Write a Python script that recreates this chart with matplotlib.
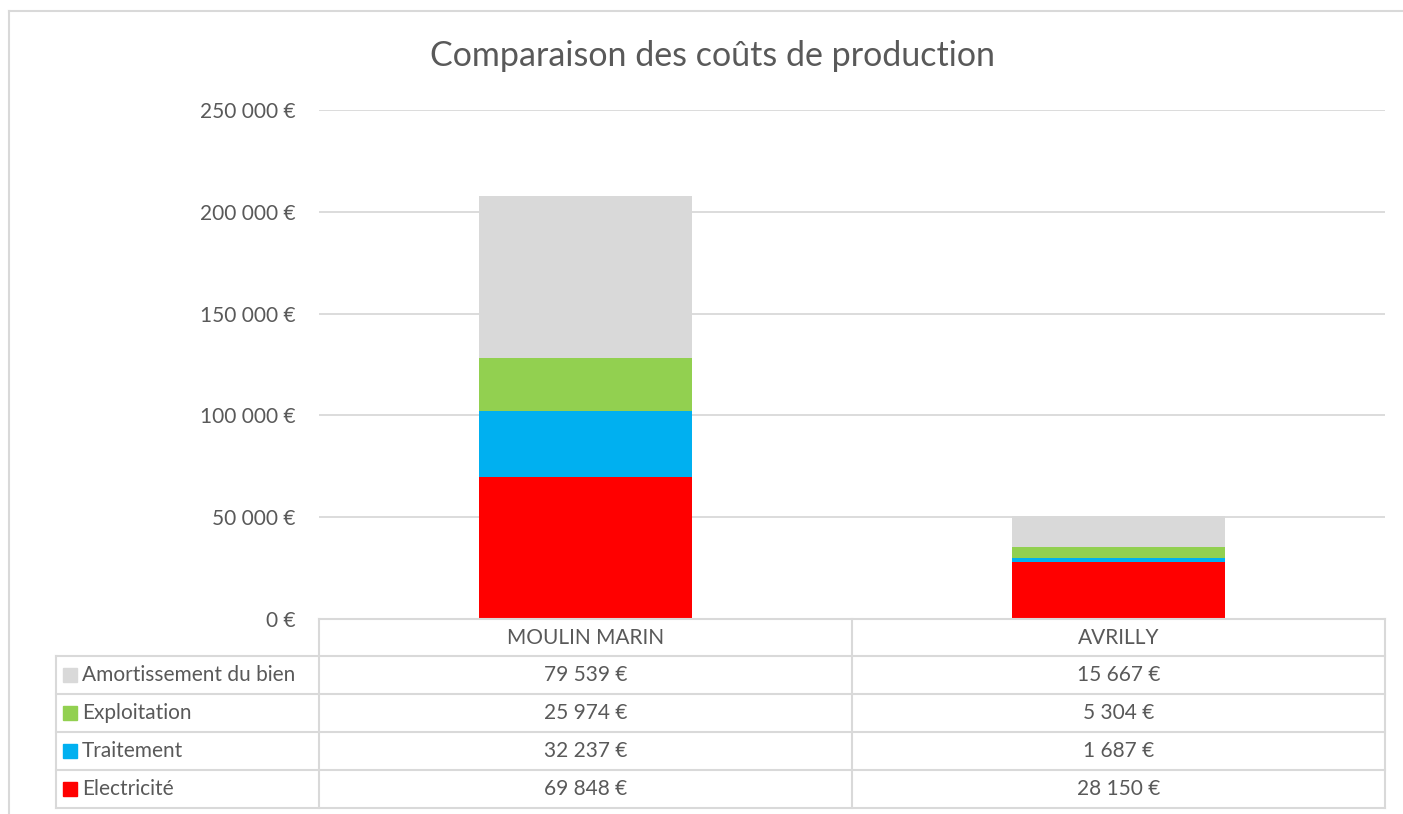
import matplotlib.pyplot as plt
from matplotlib.patches import Rectangle

# Données
sites = ['MOULIN MARIN', 'AVRILLY']
series = ['Amortissement du bien', 'Exploitation', 'Traitement', 'Electricité']
electricite = [69848, 28150]
traitement = [32237, 1687]
exploitation = [25974, 5304]
amortissement = [79539, 15667]
colors = {'Amortissement du bien': '#d9d9d9', 'Exploitation': '#92d050',
          'Traitement': '#00b0f0', 'Electricité': '#ff0000'}
yticks = [0, 50000, 100000, 150000, 200000, 250000]

valeurs = {'Amortissement du bien': amortissement, 'Exploitation': exploitation,
           'Traitement': traitement, 'Electricité': electricite}

def euro(v):
    return f"{v:,}".replace(',', ' ') + ' €'

plt.rcParams['font.family'] = ['Lato', 'DejaVu Sans']
gris_txt = '#595959'
gris_ligne = '#d9d9d9'
fs = 15

W, H = 1403, 814
fig = plt.figure(figsize=(W / 100, H / 100), dpi=100)

# axe du graphique (coordonnées pixels -> fraction)
x0, x1, ytop, ybot = 319, 1385, 110, 619
ax = fig.add_axes([x0 / W, (H - ybot) / H, (x1 - x0) / W, (ybot - ytop) / H])
pos = [0.5, 1.5]
bas = [0, 0]
for nom in ['Electricité', 'Traitement', 'Exploitation', 'Amortissement du bien']:
    ax.bar(pos, valeurs[nom], 0.4, bottom=bas, color=colors[nom], zorder=3)
    bas = [b + v for b, v in zip(bas, valeurs[nom])]
ax.set_xlim(0, 2)
ax.set_ylim(0, 250000)
ax.set_yticks(yticks)
ax.set_yticklabels([euro(t) for t in yticks], color=gris_txt, fontsize=fs)
ax.tick_params(axis='y', length=0, pad=17)
ax.set_xticks([])
ax.grid(axis='y', color=gris_ligne, linewidth=1.3, zorder=0)
for s in ax.spines.values():
    s.set_visible(False)

fig.text(713 / W, (H - 56) / H, 'Comparaison des coûts de production',
         ha='center', va='center', fontsize=24.5, color=gris_txt)

# tableau de données, dessiné en pixels
tab = fig.add_axes([0, 0, 1, 1])
tab.set_xlim(0, W)
tab.set_ylim(H, 0)
tab.axis('off')
lw = 1.5
tab.plot([9, W], [11, 11], color=gris_ligne, lw=lw)
tab.plot([9, 9], [11, H], color=gris_ligne, lw=lw)

cols = [56, 319, 852, 1385]
rows = [619, 656, 694, 732, 770, 808]
tab.plot([cols[1], cols[3]], [rows[0], rows[0]], color=gris_ligne, lw=lw)
for y in rows[1:]:
    tab.plot([cols[0], cols[3]], [y, y], color=gris_ligne, lw=lw)
tab.plot([cols[0], cols[0]], [rows[1], rows[-1]], color=gris_ligne, lw=lw)
for x in cols[1:]:
    tab.plot([x, x], [rows[0], rows[-1]], color=gris_ligne, lw=lw)

centres = [(cols[1] + cols[2]) / 2, (cols[2] + cols[3]) / 2]
for c, site in zip(centres, sites):
    tab.text(c, (rows[0] + rows[1]) / 2, site, ha='center', va='center',
             fontsize=fs, color=gris_txt)
for i, nom in enumerate(series):
    yc = (rows[i + 1] + rows[i + 2]) / 2
    tab.add_patch(Rectangle((63, yc - 7), 14, 14, color=colors[nom]))
    tab.text(82, yc, nom, ha='left', va='center', fontsize=fs, color=gris_txt)
    for c, v in zip(centres, valeurs[nom]):
        tab.text(c, yc, euro(v), ha='center', va='center', fontsize=fs, color=gris_txt)

fig.savefig('out.png', dpi=100)
